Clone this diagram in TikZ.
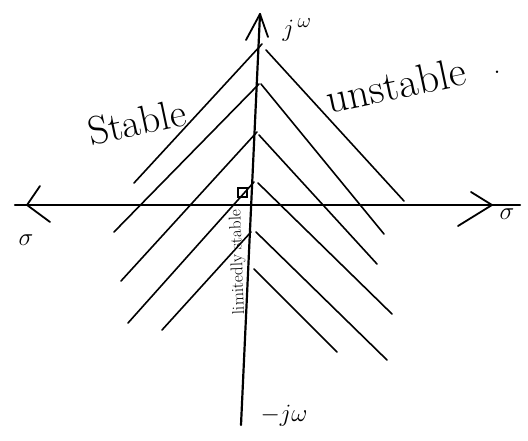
\documentclass[tikz,border=0pt]{standalone}
\usetikzlibrary{arrows.meta}
\begin{document}
\begin{tikzpicture}[x=1pt,y=-1pt,
  hatch/.style={line width=1.6pt, line cap=round},
  axisline/.style={line width=2.2pt, line cap=round},
  barb/.style={line width=1.8pt, line cap=round, line join=round},
  lbl/.style={inner sep=0pt, font=\fontsize{34}{36}\selectfont}]
\useasboundingbox (0,0) rectangle (528,441);
% axes
\coordinate (vt) at (260,14);
\coordinate (vb) at (241,425);
\coordinate (hl) at (15,205);
\coordinate (hr) at (520,205);
\draw[axisline] (vb) -- (vt);
\draw[axisline] (hl) -- (hr);
% arrow heads (hand drawn barbs)
\coordinate (ta1) at (246,40); \coordinate (ta2) at (268,37);
\draw[barb] (ta1) -- (vt) -- (ta2);
\coordinate (la) at (27,205); \coordinate (la1) at (40,186); \coordinate (la2) at (50,222);
\draw[barb] (la1) -- (la) -- (la2);
\coordinate (ra) at (492,205); \coordinate (ra1) at (471,192); \coordinate (ra2) at (458,226);
\draw[barb] (ra1) -- (ra) -- (ra2);
% left hatch (stable)
\draw[hatch] (262,44) -- (134,183);
\draw[hatch] (259,84) -- (114,232);
\draw[hatch] (257,132) -- (121,281);
\draw[hatch] (254,182) -- (128,323);
\draw[hatch] (251,232) -- (162,330);
% right hatch (unstable)
\draw[hatch] (266,50) -- (404,201);
\draw[hatch] (261,84) -- (384,234);
\draw[hatch] (259,135) -- (377,264);
\draw[hatch] (258,183) -- (392,314);
\draw[hatch] (256,232) -- (387,360);
\draw[hatch] (254,269) -- (337,352);
% right-angle mark
\draw[line width=1.2pt] (238,188) rectangle (247,197);
% labels
\node[lbl, rotate=12, font=\fontsize{40}{42}\selectfont] (stab) at (137,122) {Stable};
\node[lbl, rotate=12, font=\fontsize{42}{44}\selectfont] (unst) at (396,85) {unstable};
\node[lbl, font=\fontsize{30}{32}\selectfont] (dot) at (497,72) {.};
\node[lbl, font=\fontsize{32}{34}\selectfont] (jwt) at (297,30) {$j^{\,\omega}$};
\node[lbl, font=\fontsize{34}{36}\selectfont] (jwb) at (284,416) {$-j\omega$};
\node[lbl, font=\fontsize{32}{34}\selectfont] (sr) at (507,214) {$\sigma$};
\node[lbl, font=\fontsize{34}{36}\selectfont] (sl) at (26,240) {$\sigma$};
\node[lbl, rotate=92, font=\fontsize{17}{18}\selectfont] (lim) at (238,262) {limitedly stable};
\end{tikzpicture}
\end{document}
